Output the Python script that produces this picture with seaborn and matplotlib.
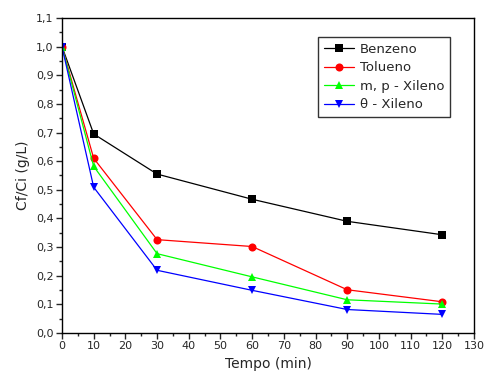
import matplotlib
matplotlib.use("Agg")
import matplotlib.pyplot as plt
import seaborn as sns
import pandas as pd
from matplotlib.ticker import MultipleLocator, FuncFormatter
from matplotlib.lines import Line2D

tempo = [0, 10, 30, 60, 90, 120]
benzeno = [1.0, 0.695, 0.555, 0.467, 0.39, 0.343]
tolueno = [1.0, 0.61, 0.326, 0.302, 0.151, 0.109]
mp_xileno = [1.0, 0.582, 0.277, 0.196, 0.116, 0.101]
o_xileno = [1.0, 0.509, 0.219, 0.149, 0.082, 0.065]

series = ["Benzeno", "Tolueno", "m, p - Xileno", "θ - Xileno"]
colors = ["#000000", "#ff0000", "#00ff00", "#0000ff"]
markers = ["s", "o", "^", "v"]

rows = []
for name, vals in zip(series, [benzeno, tolueno, mp_xileno, o_xileno]):
    for t, v in zip(tempo, vals):
        rows.append({"Tempo": t, "Valor": v, "Serie": name})
df = pd.DataFrame(rows)

sns.set_style("ticks")
plt.rcParams["font.family"] = ["DejaVu Sans"]

fig = plt.figure(figsize=(4.87, 3.81), dpi=100)
ax = fig.add_axes([62/487, 48/381, (474-62)/487, (333-18)/381])

ms = 5.8
sns.lineplot(data=df, x="Tempo", y="Valor", hue="Serie", style="Serie",
             palette=dict(zip(series, colors)), markers=dict(zip(series, markers)),
             dashes=False, markersize=ms, linewidth=0.9, markeredgewidth=0,
             ax=ax, legend=False)

ax.set_xlim(0, 130)
ax.set_ylim(0, 1.1)
ax.xaxis.set_major_locator(MultipleLocator(10))
ax.xaxis.set_minor_locator(MultipleLocator(5))
ax.yaxis.set_major_locator(MultipleLocator(0.1))
ax.yaxis.set_minor_locator(MultipleLocator(0.05))
ax.yaxis.set_major_formatter(FuncFormatter(lambda v, p: f"{v:.1f}".replace(".", ",")))
ax.tick_params(axis="both", which="major", length=4, width=1, labelsize=8, direction="out", pad=2)
ax.tick_params(axis="both", which="minor", length=2.5, width=1, direction="out")
for s in ax.spines.values():
    s.set_linewidth(1.0)
    s.set_color("black")

ax.set_xlabel("Tempo (min)", fontsize=10)
ax.set_ylabel("Cf/Ci (g/L)", fontsize=10)

handles = [Line2D([], [], color=c, marker=m, markersize=ms, linewidth=0.9, markeredgewidth=0)
           for c, m in zip(colors, markers)]
leg = ax.legend(handles, series, loc="upper right", bbox_to_anchor=(0.942, 0.94),
                borderaxespad=0, fontsize=9.5, frameon=True, fancybox=False, edgecolor="black",
                handlelength=2.3, borderpad=0.45, labelspacing=0.42, handletextpad=0.4)
leg.get_frame().set_linewidth(1.0)

fig.savefig("out.png", dpi=100)
